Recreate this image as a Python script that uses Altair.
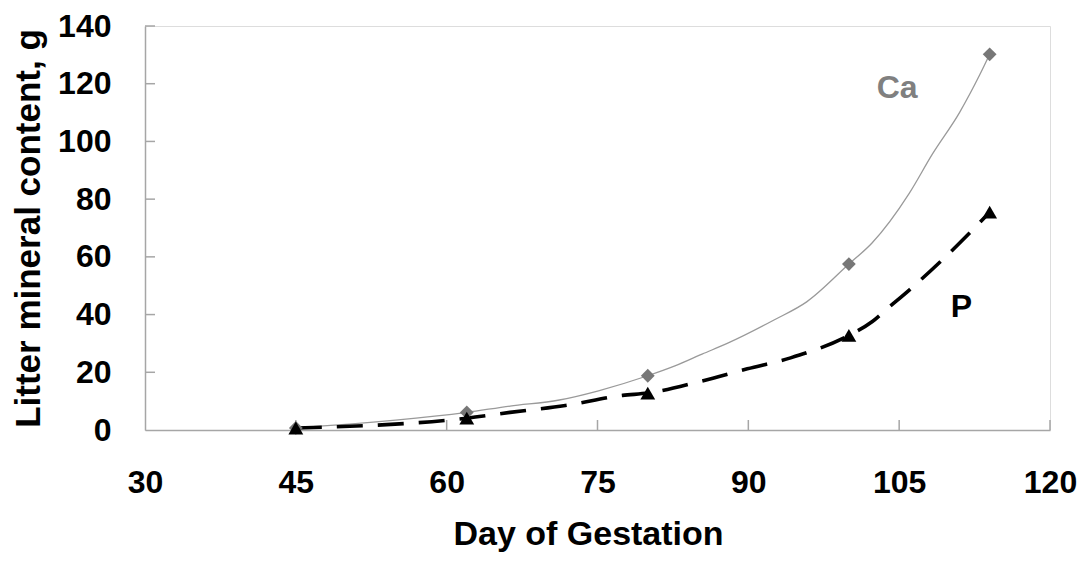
import altair as alt
import pandas as pd

# observed points (markers)
ca_days = [45, 62, 80, 100, 114]
ca_vals = [0.7, 6.1, 18.8, 57.5, 130.2]
p_days = [45, 62, 80, 100, 114]
p_vals = [0.7, 4.1, 12.8, 32.8, 75.5]

# curve vertices
ca_line_days = [45, 62, 66.3, 71.2, 75.1, 80, 82.7, 85.4, 87.9, 92.6, 95.8, 100, 102.3, 106, 108.3, 111, 113, 114]
ca_line_vals = [0.7, 6.1, 8.3, 10.4, 13.6, 18.8, 22.2, 26.3, 30.0, 38.2, 44.4, 57.5, 64.8, 82, 95.6, 110, 123, 130.2]
p_line_days = [45, 62, 66.3, 71.8, 77.5, 80, 85.4, 89.9, 94.2, 100, 102.3, 103.8, 106, 109.3, 112.3, 114]
p_line_vals = [0.7, 4.1, 6.1, 8.5, 12.0, 12.8, 17.0, 21.2, 25.0, 32.8, 37.5, 42.0, 48.5, 59.0, 69.3, 75.5]

x_ticks = [30, 45, 60, 75, 90, 105, 120]
y_ticks = [0, 20, 40, 60, 80, 100, 120, 140]

labels = ["Ca", "P"]
label_days = [104.8, 111.2]
label_vals = [118.5, 42.7]
label_colors = ["#808080", "#000000"]

W, H = 905, 404
FONT = "Liberation Sans"
AXIS_COLOR = "#a6a6a6"

xs = alt.Scale(domain=[30, 120], nice=False, zero=False)
ys = alt.Scale(domain=[0, 140], nice=False)

ca_line_df = pd.DataFrame({"day": ca_line_days, "val": ca_line_vals})
p_line_df = pd.DataFrame({"day": p_line_days, "val": p_line_vals})
ca_df = pd.DataFrame({"day": ca_days, "val": ca_vals})
p_df = pd.DataFrame({"day": p_days, "val": p_vals})
lab_df = pd.DataFrame({"t": labels, "day": label_days, "val": label_vals, "c": label_colors})
xt_df = pd.DataFrame({"v": x_ticks[1:]})
yt_df = pd.DataFrame({"v": y_ticks[1:]})

x_axis = alt.X("day:Q", scale=xs,
               axis=alt.Axis(values=x_ticks, title="Day of Gestation", tickSize=0,
                             grid=False, domainColor=AXIS_COLOR, domainWidth=1.5,
                             labelFont=FONT, labelFontSize=32, labelFontWeight="bold",
                             labelColor="#000000", labelPadding=37,
                             titleFont=FONT, titleFontSize=34, titleFontWeight="bold",
                             titleColor="#000000", titlePadding=19, labelFlush=False,
                             titleX=443))
y_axis = alt.Y("val:Q", scale=ys,
               axis=alt.Axis(values=y_ticks, title="Litter mineral content, g", tickSize=0,
                             grid=False, domainColor=AXIS_COLOR, domainWidth=1.5,
                             labelFont=FONT, labelFontSize=32, labelFontWeight="bold",
                             labelColor="#000000", labelPadding=34,
                             titleFont=FONT, titleFontSize=35, titleFontWeight="bold",
                             titleColor="#000000", titlePadding=11, labelFlush=False))

ca_line = alt.Chart(ca_line_df).mark_line(color="#9a9a9a", strokeWidth=1.3, interpolate="monotone").encode(
    x=x_axis, y=y_axis)
p_line = alt.Chart(p_line_df).mark_line(color="#000000", strokeWidth=3.6, strokeDash=[26, 15],
                                        interpolate="monotone").encode(
    x=alt.X("day:Q", scale=xs), y=alt.Y("val:Q", scale=ys))
ca_pts = alt.Chart(ca_df).mark_point(shape="diamond", filled=True, color="#777777", size=190, opacity=1).encode(
    x=alt.X("day:Q", scale=xs), y=alt.Y("val:Q", scale=ys))
p_pts = alt.Chart(p_df).mark_point(shape="triangle-up", filled=True, color="#000000", size=220, opacity=1).encode(
    x=alt.X("day:Q", scale=xs), y=alt.Y("val:Q", scale=ys))
texts = alt.Chart(lab_df).mark_text(font=FONT, fontSize=32, fontWeight="bold").encode(
    x=alt.X("day:Q", scale=xs), y=alt.Y("val:Q", scale=ys), text="t:N",
    color=alt.Color("c:N", scale=None))
xticks = alt.Chart(xt_df).mark_rule(color=AXIS_COLOR, strokeWidth=1.5).encode(
    x=alt.X("v:Q", scale=xs), y=alt.value(H), y2=alt.value(H - 10))
yticks = alt.Chart(yt_df).mark_rule(color=AXIS_COLOR, strokeWidth=1.5).encode(
    y=alt.Y("v:Q", scale=ys), x=alt.value(0), x2=alt.value(10))

chart = alt.layer(xticks, yticks, ca_line, p_line, ca_pts, p_pts, texts).properties(
    width=W, height=H,
    autosize=alt.AutoSizeParams(type="none"),
    padding={"left": 137, "top": 18, "right": 28, "bottom": 125},
).configure_view(stroke=None).configure(background="white")

chart.save("out.html", embed_options={"renderer": "svg", "actions": False})
